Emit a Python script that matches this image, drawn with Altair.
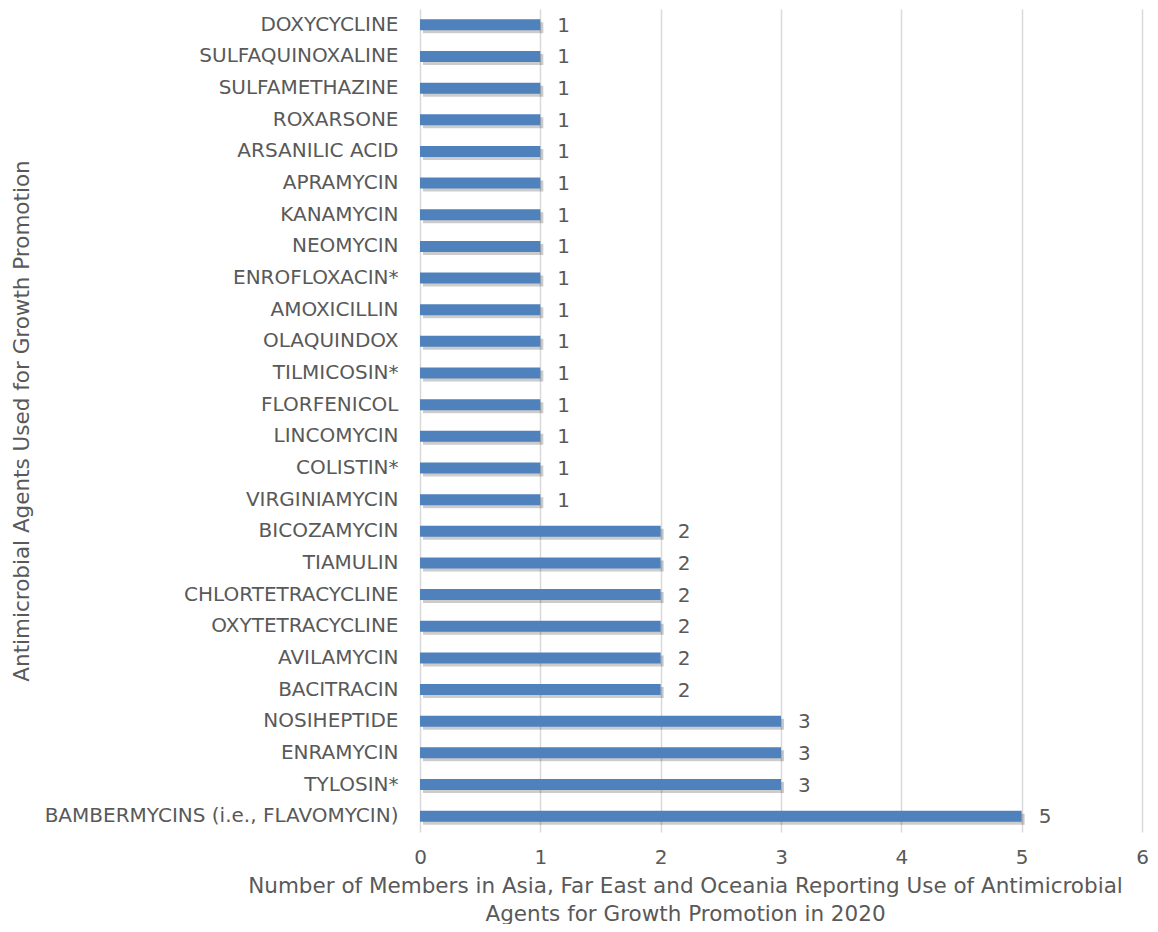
import altair as alt
import pandas as pd

agents = [
    "DOXYCYCLINE", "SULFAQUINOXALINE", "SULFAMETHAZINE", "ROXARSONE", "ARSANILIC ACID",
    "APRAMYCIN", "KANAMYCIN", "NEOMYCIN", "ENROFLOXACIN*", "AMOXICILLIN", "OLAQUINDOX",
    "TILMICOSIN*", "FLORFENICOL", "LINCOMYCIN", "COLISTIN*", "VIRGINIAMYCIN",
    "BICOZAMYCIN", "TIAMULIN", "CHLORTETRACYCLINE", "OXYTETRACYCLINE", "AVILAMYCIN",
    "BACITRACIN", "NOSIHEPTIDE", "ENRAMYCIN", "TYLOSIN*", "BAMBERMYCINS (i.e., FLAVOMYCIN)",
]
members = [1, 1, 1, 1, 1, 1, 1, 1, 1, 1, 1, 1, 1, 1, 1, 1, 2, 2, 2, 2, 2, 2, 3, 3, 3, 5]
x_ticks = [0, 1, 2, 3, 4, 5, 6]

df = pd.DataFrame({"agent": agents, "members": members})

FONT = "DejaVu Sans"
TXT = "#595959"
FS = 20
TFS = 21.5

y_enc = alt.Y("agent:N", sort=agents, title="Antimicrobial Agents Used for Growth Promotion",
              scale=alt.Scale(paddingInner=0.0, paddingOuter=0.0),
              axis=alt.Axis(labelFont=FONT, labelFontSize=FS, labelColor=TXT, labelPadding=22,
                            ticks=False, domain=False, grid=False,
                            titleFont=FONT, titleFontSize=TFS, titleColor=TXT, titleFontWeight="normal",
                            titleX=-398, titleBaseline="middle", labelLimit=500))
x_enc = alt.X("members:Q", title=["Number of Members in Asia, Far East and Oceania Reporting Use of Antimicrobial",
                                  "Agents for Growth Promotion in 2020"],
              scale=alt.Scale(domain=[0, 6], nice=False),
              axis=alt.Axis(values=x_ticks, format="d", labelFont=FONT, labelFontSize=FS, labelColor=TXT,
                            labelPadding=15, labelFlush=False, ticks=False, domain=False, grid=True,
                            gridColor="#D9D9D9", gridWidth=1.5, titleFont=FONT, titleFontSize=TFS,
                            titleColor=TXT, titleFontWeight="normal", titleX=265, titleY=43,
                            titleAlign="center", titleBaseline="top", titleLineHeight=28))

base = alt.Chart(df)
shadow = base.mark_bar(color="#000000", opacity=0.2, size=11, xOffset=3, yOffset=3).encode(x=x_enc, y=y_enc)
bars = base.mark_bar(color="#4F81BD", size=11).encode(x=x_enc, y=y_enc)
labels = base.mark_text(align="left", baseline="middle", dx=17, dy=1, font=FONT, fontSize=FS, color=TXT).encode(
    x=x_enc, y=y_enc, text=alt.Text("members:Q", format="d"))

chart = (shadow + bars + labels).properties(
    width=722, height=823,
    background="white",
    autosize=alt.AutoSizeParams(type="none"),
    padding={"left": 412, "top": 1, "right": 8, "bottom": 92},
).configure_view(strokeWidth=0, stroke=None)

chart.save("out.html", embed_options={"renderer": "svg", "actions": False})
